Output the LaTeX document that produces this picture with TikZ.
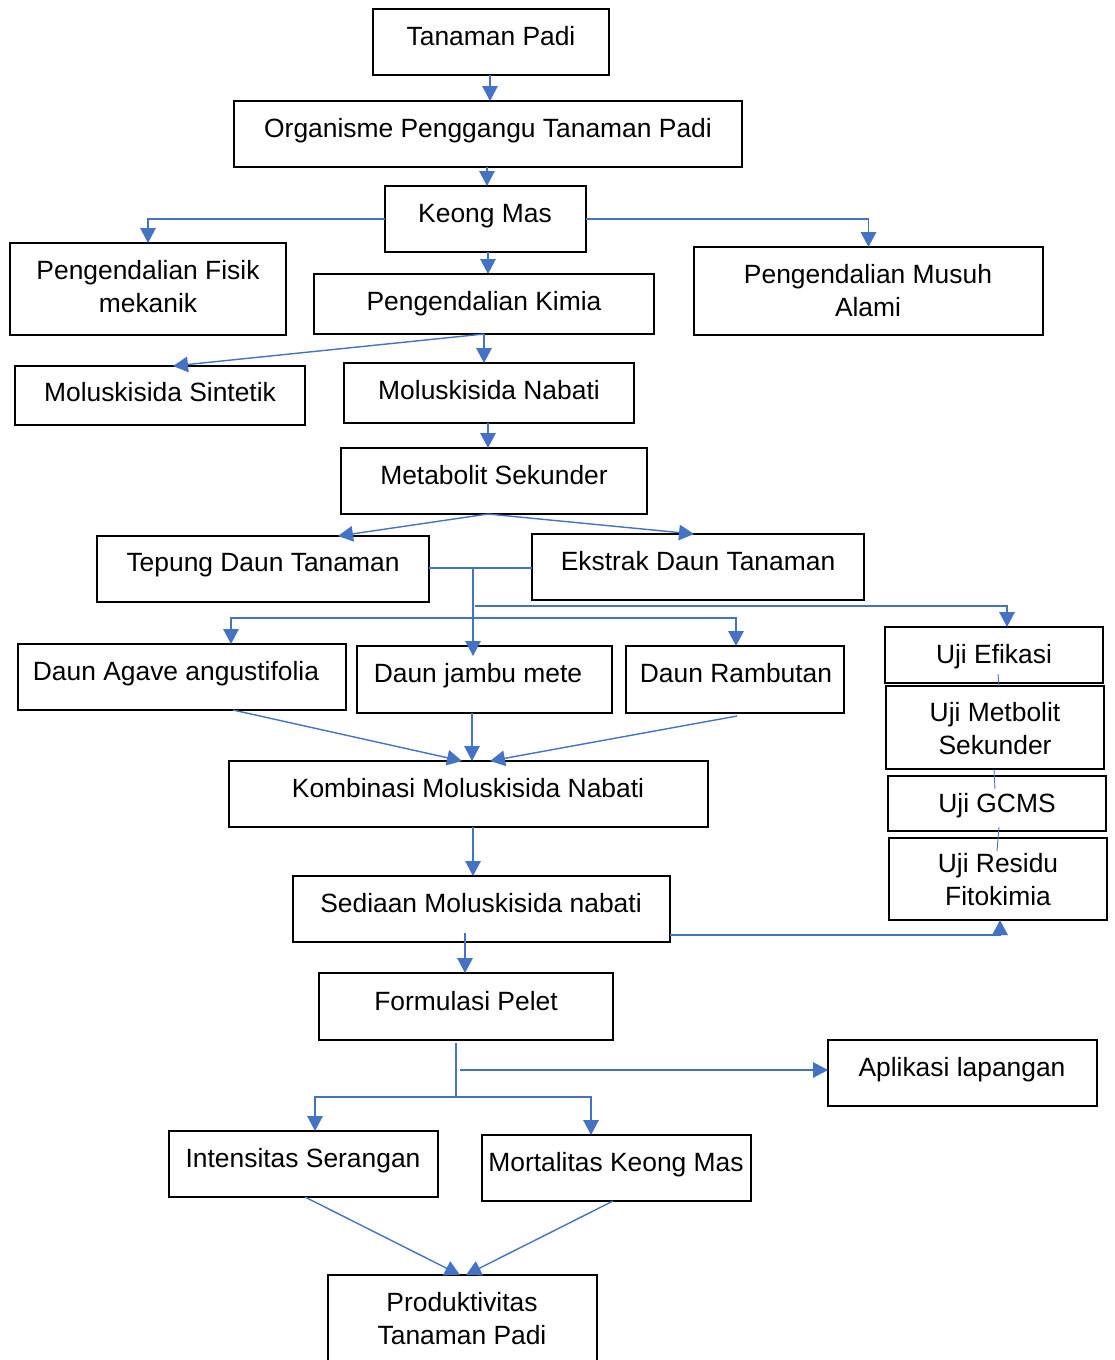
\documentclass[tikz,border=0pt]{standalone}
\usepackage{fontspec}
\setmainfont{Liberation Sans}
\usetikzlibrary{arrows.meta}
\definecolor{conblue}{HTML}{4472C4}
\begin{document}
\begin{tikzpicture}[x=1pt,y=-1pt,
  box/.style={draw=black,line width=1.8pt,rectangle,inner sep=0pt,outer sep=0pt},
  txt/.style={inner sep=0pt,align=center,font=\fontsize{26.4}{33}\selectfont},
  txtone/.style={txt,text height=19pt,text depth=0pt},
  con/.style={draw=conblue,line width=1.4pt},
  arr/.style={con,-{Triangle[width=15.5pt,length=15pt]}},
  thincon/.style={draw=conblue,line width=0.9pt}]
\fill[white] (0,0) rectangle (1114,1360);
\useasboundingbox (0,0) rectangle (1114,1360);
% boxes
\node[box,minimum width=236,minimum height=66] (tp) at (491,42) {};
\node[txtone] (tpT) at (491,36) {Tanaman Padi};
\node[box,minimum width=508,minimum height=66] (org) at (488,134) {};
\node[txtone] (orgT) at (488,128) {Organisme Penggangu Tanaman Padi};
\node[box,minimum width=201,minimum height=66] (keong) at (485.5,219) {};
\node[txtone] (keongT) at (485,213) {Keong Mas};
\node[box,minimum width=276,minimum height=92] (fisik) at (148,289) {};
\node[txt] (fisikT) at (148,286.5) {Pengendalian Fisik\\mekanik};
\node[box,minimum width=340,minimum height=60] (kimia) at (484,304) {};
\node[txtone] (kimiaT) at (484,301) {Pengendalian Kimia};
\node[box,minimum width=349,minimum height=88] (musuh) at (868.5,291) {};
\node[txt] (musuhT) at (868,290.5) {Pengendalian Musuh\\Alami};
\node[box,minimum width=290,minimum height=59] (sint) at (160,395.5) {};
\node[txtone] (sintT) at (160,392) {Moluskisida Sintetik};
\node[box,minimum width=290,minimum height=60] (nabati) at (489,393) {};
\node[txtone] (nabatiT) at (489,390) {Moluskisida Nabati};
\node[box,minimum width=306,minimum height=66] (meta) at (494,481) {};
\node[txtone] (metaT) at (494,475) {Metabolit Sekunder};
\node[box,minimum width=332,minimum height=66] (tepung) at (263,569) {};
\node[txtone] (tepungT) at (263,562) {Tepung Daun Tanaman};
\node[box,minimum width=332,minimum height=66] (ekstrak) at (698,567) {};
\node[txtone] (ekstrakT) at (698,561) {Ekstrak Daun Tanaman};
\node[box,minimum width=328,minimum height=66] (agave) at (182,677) {};
\node[txtone] (agaveT) at (176,671) {Daun Agave angustifolia};
\node[box,minimum width=255,minimum height=67] (jambu) at (484.5,679.5) {};
\node[txtone] (jambuT) at (478,673) {Daun jambu mete};
\node[box,minimum width=218,minimum height=67] (ramb) at (735,679.5) {};
\node[txtone] (rambT) at (736,673) {Daun Rambutan};
\node[box,minimum width=218,minimum height=56] (efik) at (994,655) {};
\node[txtone] (efikT) at (994,654) {Uji Efikasi};
\node[box,minimum width=218,minimum height=83] (umet) at (995,727.5) {};
\node[txt] (umetT) at (995,728.5) {Uji Metbolit\\Sekunder};
\node[box,minimum width=218,minimum height=55] (gcms) at (997,803.5) {};
\node[txtone] (gcmsT) at (997,803) {Uji GCMS};
\node[box,minimum width=218,minimum height=82] (resid) at (998,879) {};
\node[txt] (residT) at (998,879.5) {Uji Residu\\Fitokimia};
\node[box,minimum width=479,minimum height=66] (komb) at (468.5,794) {};
\node[txtone] (kombT) at (468,788) {Kombinasi Moluskisida Nabati};
\node[box,minimum width=377,minimum height=66] (sed) at (481.5,909) {};
\node[txtone] (sedT) at (481,903) {Sediaan Moluskisida nabati};
\node[box,minimum width=294,minimum height=67] (form) at (466,1006.5) {};
\node[txtone] (formT) at (466,1001) {Formulasi Pelet};
\node[box,minimum width=269,minimum height=66] (apl) at (962.5,1073) {};
\node[txtone] (aplT) at (962,1067) {Aplikasi lapangan};
\node[box,minimum width=269,minimum height=66] (inten) at (303.5,1164) {};
\node[txtone] (intenT) at (303,1158) {Intensitas Serangan};
\node[box,minimum width=269,minimum height=66] (mort) at (616.5,1168) {};
\node[txtone] (mortT) at (616,1162) {Mortalitas Keong Mas};
\node[box,minimum width=269,minimum height=115] (prod) at (462.5,1332.5) {};
\node[txt] (prodT) at (462,1318.5) {Produktivitas\\Tanaman Padi};
% branch coordinates
\coordinate (j1) at (473,568);
\coordinate (j2) at (473,618);
\coordinate (j3) at (475,606);
\coordinate (j4) at (456,1097);
\coordinate (j5) at (456,1043);
\coordinate (j6) at (460,1070);
% connectors
\draw[arr] (490,0 |- tp.south) -- (490,0 |- org.north);
\draw[arr] (487,0 |- org.south) -- (487,0 |- keong.north);
\draw[arr] (keong.west) -| (fisik.north);
\draw[arr] (keong.east) -| (musuh.north);
\draw[arr] (488,0 |- keong.south) -- (488,0 |- kimia.north);
\draw[arr] (484,0 |- kimia.south) -- (173,0 |- sint.north);
\draw[arr] (484,0 |- kimia.south) -- (484,0 |- nabati.north);
\draw[arr] (488,0 |- nabati.south) -- (488,0 |- meta.north);
\draw[arr] (488,0 |- meta.south) -- (338,0 |- tepung.north);
\draw[arr] (488,0 |- meta.south) -- (694,0 |- ekstrak.north);
\draw[con] (tepung.east |- j1) -- (ekstrak.west |- j1);
\draw[arr] (j1) -- ([yshift=-10pt]473,0 |- jambu.north);
\draw[arr] (j2) -| (231,0 |- agave.north);
\draw[arr] (j2) -| (736,0 |- ramb.north);
\draw[arr] (j3) -| (1007,0 |- efik.north);
\draw[arr] (233,0 |- agave.south) -- (462,0 |- komb.north);
\draw[arr] (472,0 |- jambu.south) -- (472,0 |- komb.north);
\draw[arr] ([yshift=-3pt]737,0 |- ramb.south) -- (490,0 |- komb.north);
\draw[thincon] ([yshift=9pt]998,0 |- efik.south) -- (999,0 |- umet.north);
\draw[thincon] (994,0 |- umet.south) -- ([yshift=-13pt]995,0 |- gcms.north);
\draw[thincon] ([yshift=4pt]999,0 |- gcms.south) -- ([yshift=-13pt]997,0 |- resid.north);
\draw[arr] (473,0 |- komb.south) -- (473,0 |- sed.north);
\draw[arr] (sed.east |- 0,935) -| (1000,0 |- resid.south);
\draw[arr] ([yshift=9pt]465,0 |- sed.south) -- (465,0 |- form.north);
\draw[con] (j5) -- (j4);
\draw[arr] (j6) -- (apl.west |- j6);
\draw[arr] (j4) -| (315,0 |- inten.north);
\draw[arr] (j4) -| (591,0 |- mort.north);
\draw[arr] (305,0 |- inten.south) -- (460,0 |- prod.north);
\draw[arr] (613,0 |- mort.south) -- (466,0 |- prod.north);
\end{tikzpicture}
\end{document}
